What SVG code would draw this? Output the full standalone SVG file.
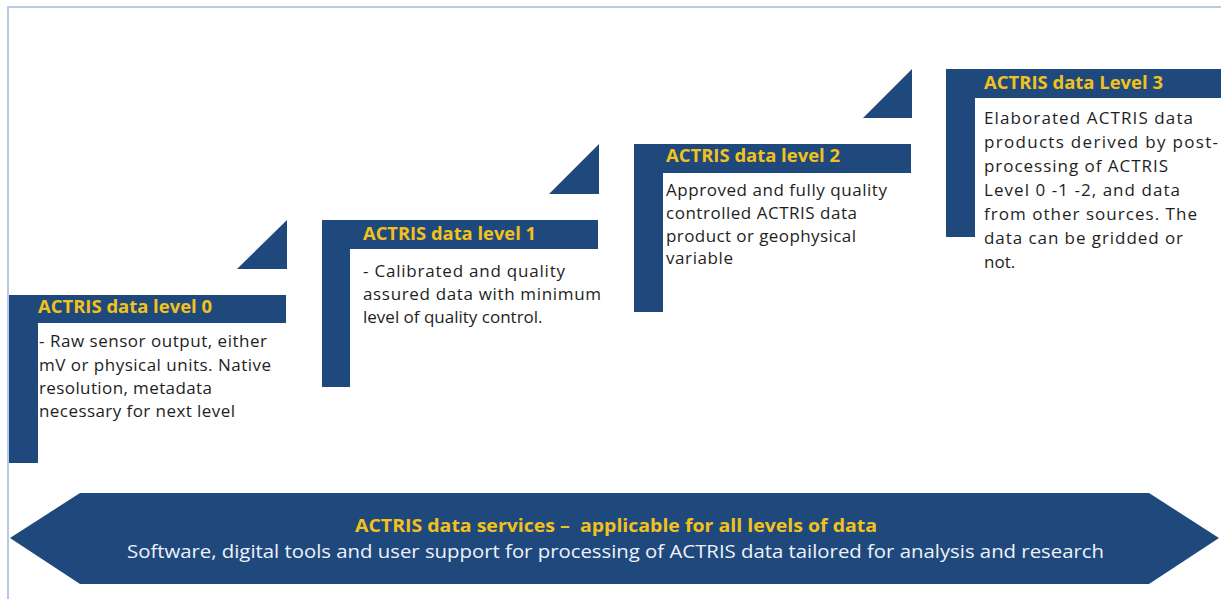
<svg xmlns="http://www.w3.org/2000/svg" width="1221" height="599" viewBox="0 0 1221 599">
<style>
.bar{fill:#1F497D}
.hd{font-family:"Open Sans","Liberation Sans",sans-serif;font-weight:bold;font-size:17px;fill:#F2C21B}
.bd{font-family:"Open Sans","Liberation Sans",sans-serif;font-size:17px;fill:#1E1E1E}
.sv1{font-family:"Open Sans","Liberation Sans",sans-serif;font-weight:bold;font-size:18px;fill:#F2C21B}
.sv2{font-family:"Open Sans","Liberation Sans",sans-serif;font-size:18px;fill:#EEF2F8}
.frame{fill:none;stroke:#B7C9E6;stroke-width:2}
</style>
<rect width="1221" height="599" fill="#FFFFFF"/>
<path class="frame" d="M8,600 V7 H1222"/>
<g id="connectors">
<polygon class="bar" points="237,269 287,220 287,269"/>
<polygon class="bar" points="549,194 599,144 599,194"/>
<polygon class="bar" points="863,118 912,69 912,118"/>
</g>
<g id="level0">
<path class="bar" d="M9,295 H286 V323 H38 V463 H9 Z"/>
<text class="hd" x="38" y="313" textLength="174" lengthAdjust="spacingAndGlyphs">ACTRIS data level 0</text>
<text class="bd" x="39" y="347" textLength="228" lengthAdjust="spacing">- Raw sensor output, either</text>
<text class="bd" x="39" y="371" textLength="232" lengthAdjust="spacing">mV or physical units. Native</text>
<text class="bd" x="39" y="394" textLength="173" lengthAdjust="spacing">resolution, metadata</text>
<text class="bd" x="39" y="417" textLength="196" lengthAdjust="spacing">necessary for next level</text>
</g>
<g id="level1">
<path class="bar" d="M322,220 H598 V249 H350 V387 H322 Z"/>
<text class="hd" x="363" y="240" textLength="173" lengthAdjust="spacingAndGlyphs">ACTRIS data level 1</text>
<text class="bd" x="363" y="277" textLength="202" lengthAdjust="spacing">- Calibrated and quality</text>
<text class="bd" x="363" y="300" textLength="238" lengthAdjust="spacing">assured data with minimum</text>
<text class="bd" x="363" y="323">level of quality control.</text>
</g>
<g id="level2">
<path class="bar" d="M634,144 H911 V173 H663 V312 H634 Z"/>
<text class="hd" x="666" y="162" textLength="174" lengthAdjust="spacingAndGlyphs">ACTRIS data level 2</text>
<text class="bd" x="666" y="196" textLength="221" lengthAdjust="spacing">Approved and fully quality</text>
<text class="bd" x="666" y="219" textLength="191" lengthAdjust="spacing">controlled ACTRIS data</text>
<text class="bd" x="666" y="242" textLength="190" lengthAdjust="spacing">product or geophysical</text>
<text class="bd" x="666" y="264" textLength="67" lengthAdjust="spacing">variable</text>
</g>
<g id="level3">
<path class="bar" d="M946,69 H1221 V98 H975 V237 H946 Z"/>
<text class="hd" x="984" y="89" textLength="179" lengthAdjust="spacingAndGlyphs">ACTRIS data Level 3</text>
<text class="bd" x="984" y="124" textLength="209" lengthAdjust="spacing">Elaborated ACTRIS data</text>
<text class="bd" x="984" y="148" textLength="234" lengthAdjust="spacing">products derived by post-</text>
<text class="bd" x="984" y="172" textLength="184" lengthAdjust="spacing">processing of ACTRIS</text>
<text class="bd" x="984" y="196" textLength="196" lengthAdjust="spacing">Level 0 -1 -2, and data</text>
<text class="bd" x="984" y="220" textLength="213" lengthAdjust="spacing">from other sources. The</text>
<text class="bd" x="984" y="244" textLength="199" lengthAdjust="spacing">data can be gridded or</text>
<text class="bd" x="984" y="268">not.</text>
</g>
<g id="services">
<path class="bar" d="M80,493 H1149 L1219,538 L1149,584 H80 L10,538 Z"/>
<text class="sv1" x="355" y="532" textLength="522" lengthAdjust="spacingAndGlyphs" xml:space="preserve">ACTRIS data services –  applicable for all levels of data</text>
<text class="sv2" x="127" y="558" textLength="977" lengthAdjust="spacingAndGlyphs">Software, digital tools and user support for processing of ACTRIS data tailored for analysis and research</text>
</g>
</svg>
